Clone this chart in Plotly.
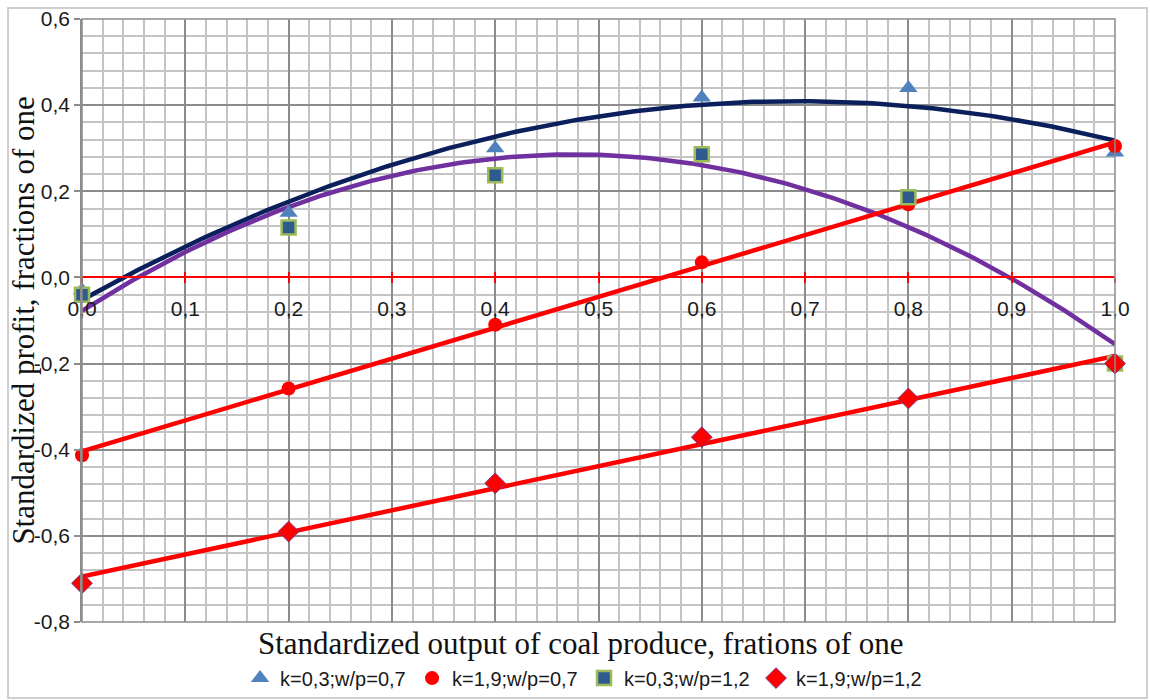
import numpy as np
import plotly.graph_objects as go

# ---- data ----
x_vals = [0.0, 0.2, 0.4, 0.6, 0.8, 1.0]
s1_name = "k=0,3;w/p=0,7"
s1_y = [-0.03, 0.15, 0.30, 0.418, 0.44, 0.29]
s2_name = "k=1,9;w/p=0,7"
s2_y = [-0.413, -0.258, -0.11, 0.035, 0.17, 0.305]
s3_name = "k=0,3;w/p=1,2"
s3_y = [-0.04, 0.116, 0.237, 0.286, 0.186, -0.20]
s4_name = "k=1,9;w/p=1,2"
s4_y = [-0.71, -0.59, -0.478, -0.371, -0.281, -0.20]

y_tick_vals = [-0.8, -0.6, -0.4, -0.2, 0.0, 0.2, 0.4, 0.6]
y_tick_text = ["-0,8", "-0,6", "-0,4", "-0,2", "0,0", "0,2", "0,4", "0,6"]

x_title = "Standardized output of coal produce, frations of one"
y_title = "Standardized profit, fractions of one"

# trendlines (polynomial order 2 for k=0,3, linear for k=1,9)
xs = np.linspace(0, 1, 201)
def trend(y, deg):
    c = np.polyfit(x_vals, y, deg)
    return np.polyval(c, xs)

fig = go.Figure()

line_w = 4.5
fig.add_trace(go.Scatter(x=xs, y=trend(s1_y, 2), mode="lines", line=dict(color="#0B1F5C", width=line_w),
                         showlegend=False, hoverinfo="skip", cliponaxis=False))
fig.add_trace(go.Scatter(x=xs, y=trend(s3_y, 2), mode="lines", line=dict(color="#7030A0", width=line_w),
                         showlegend=False, hoverinfo="skip", cliponaxis=False))
fig.add_trace(go.Scatter(x=xs, y=trend(s2_y, 1), mode="lines", line=dict(color="#FF0000", width=line_w),
                         showlegend=False, hoverinfo="skip", cliponaxis=False))
fig.add_trace(go.Scatter(x=xs, y=trend(s4_y, 1), mode="lines", line=dict(color="#FF0000", width=line_w),
                         showlegend=False, hoverinfo="skip", cliponaxis=False))

fig.add_trace(go.Scatter(x=x_vals, y=s1_y, mode="markers", name=s1_name, cliponaxis=False,
                         marker=dict(symbol="triangle-up", size=16, color="#4F81BD")))
fig.add_trace(go.Scatter(x=x_vals, y=s2_y, mode="markers", name=s2_name, cliponaxis=False,
                         marker=dict(symbol="circle", size=14, color="#FF0000")))
fig.add_trace(go.Scatter(x=x_vals, y=s3_y, mode="markers", name=s3_name, cliponaxis=False,
                         marker=dict(symbol="square", size=14, color="#2F5A8E",
                                     line=dict(color="#9BBB59", width=2.5))))
fig.add_trace(go.Scatter(x=x_vals, y=s4_y, mode="markers", name=s4_name, cliponaxis=False,
                         marker=dict(symbol="diamond", size=16, color="#FF0000",
                                     line=dict(color="#7A3A8C", width=1))))
# helper trace for the overlaid axis carrying the upward half of the ticks
fig.add_trace(go.Scatter(x=[0.5], y=[0], xaxis="x2", mode="markers", marker=dict(opacity=0),
                         showlegend=False, hoverinfo="skip"))

y_axis_pos = 0.8 / 1.4  # where y = 0 lies inside the plot height

tick_font = dict(family="Liberation Sans, Arial, sans-serif", size=21, color="#1A1A1A")

fig.update_layout(
    width=1150, height=700,
    margin=dict(l=82, r=35, t=19, b=78, autoexpand=False),
    paper_bgcolor="white", plot_bgcolor="white",
    separators=",.",
    showlegend=True,
    legend=dict(orientation="h", x=0.153, xanchor="left", y=-0.093, yanchor="middle",
                font=dict(family="Liberation Sans, Arial, sans-serif", size=20, color="#1A1A1A"),
                itemwidth=30, entrywidth=127, tracegroupgap=0, bgcolor="rgba(0,0,0,0)"),
    xaxis=dict(range=[0, 1.0], dtick=0.1, tick0=0, tickformat=".1f", automargin=False,
               anchor="free", position=y_axis_pos,
               showline=True, linecolor="#FF0000", linewidth=1.5,
               ticks="outside", ticklen=5, tickwidth=1.5, tickcolor="#FF0000",
               ticklabelstandoff=8, tickfont=tick_font,
               showgrid=True, gridcolor="#8C8C8C", gridwidth=1.5, zeroline=False,
               minor=dict(dtick=0.02, showgrid=True, gridcolor="#C4C4C4", gridwidth=1.5)),
    xaxis2=dict(range=[0, 1.0], dtick=0.1, tick0=0, overlaying="x", anchor="free", automargin=False,
                position=y_axis_pos, showline=False, showgrid=False, zeroline=False,
                ticks="inside", ticklen=5, tickwidth=1.5, tickcolor="#FF0000",
                showticklabels=False),
    yaxis=dict(range=[-0.8, 0.6], tickmode="array", tickvals=y_tick_vals, ticktext=y_tick_text,
               automargin=False,
               showline=True, linecolor="#8C8C8C", linewidth=1.5,
               ticks="outside", ticklen=6, tickwidth=1.5, tickcolor="#8C8C8C",
               tickfont=tick_font, zeroline=False,
               showgrid=True, gridcolor="#8C8C8C", gridwidth=1.5,
               minor=dict(dtick=0.04, tick0=0, showgrid=True, gridcolor="#C4C4C4", gridwidth=1.5)),
    annotations=[
        dict(text=x_title, xref="paper", yref="paper", x=0.483, y=-0.036,
             xanchor="center", yanchor="middle", showarrow=False,
             font=dict(family="Liberation Serif, Times New Roman, serif", size=31, color="#111111")),
        dict(text=y_title, xref="paper", yref="paper", x=-0.057, y=0.5, textangle=-90,
             xanchor="center", yanchor="middle", showarrow=False,
             font=dict(family="Liberation Serif, Times New Roman, serif", size=31, color="#111111")),
    ],
    shapes=[
        dict(type="rect", xref="paper", yref="paper", x0=0, x1=1, y0=0, y1=1,
             line=dict(color="#8C8C8C", width=1.5), layer="above"),
        dict(type="rect", xref="paper", yref="paper", x0=-0.0716, x1=1.031, y0=-0.126, y1=1.0182,
             line=dict(color="#CFCFCF", width=2), layer="below"),
    ],
)

fig.write_html("out.html", config={"displayModeBar": False},
               post_script="document.body.style.margin='0px';")
